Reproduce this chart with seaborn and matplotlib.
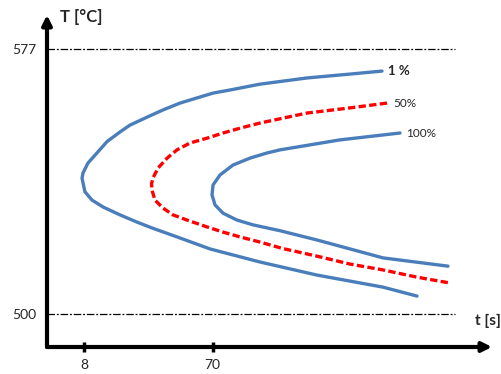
import numpy as np
import matplotlib
matplotlib.use("Agg")
import matplotlib.pyplot as plt
import pandas as pd
import seaborn as sns

# curve points: time [s] (log axis) and temperature [°C]
one_t = [1222, 700, 344, 155.7, 93.8, 70.4, 53.7, 40.3, 30.2, 23.07, 17.31, 14.62,
         11.74, 9.91, 8.52, 7.83, 7.70, 7.83, 8.09, 9.11, 10.97, 14.62, 19.49,
         25.1, 38.3, 66.9, 155.7, 408, 1243, 2208]
one_T = [570.6, 569.7, 568.6, 566.8, 565.1, 564.2, 562.8, 561.3, 559.3, 557.2, 554.9, 552.9,
         550.1, 546.8, 543.9, 541.0, 539.5, 538.1, 535.5, 533.1, 531.1, 528.8, 526.7,
         525.0, 522.4, 518.9, 515.1, 511.3, 507.8, 505.2]

fifty_t = [1330, 712, 344, 155.7, 111, 83.3, 63.6, 47.7, 38.3, 32.4, 27.8, 25.5,
           24.9, 25.1, 26.4, 30.2, 35.8, 45.3, 63.6, 83.3, 111, 155.7, 229.6,
           408, 712, 1243, 2208, 3857]
fifty_T = [561.3, 559.9, 558.4, 555.5, 554.0, 552.6, 551.1, 549.7, 547.7, 545.3, 542.4, 539.5,
           537.8, 536.0, 533.1, 530.8, 528.8, 527.3, 525.3, 523.8, 522.4, 520.9, 519.0,
           516.8, 514.5, 512.8, 510.7, 509.0]

hundred_t = [1657, 601, 218.3, 175.2, 131.5, 98.7, 79.2, 70.4, 69.2,
             72.8, 83.3, 105.5, 138.3, 218.3, 408, 1243, 3728]
hundred_T = [552.6, 550.6, 547.7, 546.8, 545.3, 543.3, 540.4, 537.5, 534.6,
             531.7, 529.3, 527.3, 525.9, 524.2, 521.5, 516.3, 513.9]

curve_labels = ["1 %", "50%", "100%"]
x_ticks = [8, 70]
y_lines = [577, 500]

sns.set_style("white")
plt.rcParams["font.family"] = ["Lato", "DejaVu Sans"]

W, H = 502, 374
fig = plt.figure(figsize=(W / 100, H / 100), dpi=100)
ax = fig.add_axes([47 / W, (H - 347) / H, (492 - 47) / W, (347 - 15) / H])

blue = "#4a7ebb"
red = "#ff0000"

curves = [(one_t, one_T, blue), (fifty_t, fifty_T, red), (hundred_t, hundred_T, blue)]
for t, T, col in curves:
    df = pd.DataFrame({"t": t, "T": T})
    sns.lineplot(data=df, x="t", y="T", sort=False, estimator=None,
                 color=col, lw=2.4, ax=ax)

# 50% curve is dashed
ax.get_lines()[1].set_dashes((2.2, 1.0))
for ln in ax.get_lines():
    ln.set_solid_joinstyle("round")

ax.set_xscale("log")
ax.set_xlim(4.26, 7837)
ax.set_ylim(490.4, 586.9)

# labels at curve ends
for (t, T, col), lab, fs, fw in zip(curves, curve_labels,
                                    [9.5, 8.5, 8.5], ["bold", "normal", "normal"]):
    ax.annotate(lab, xy=(t[0], T[0]), xytext=(6, 0), textcoords="offset pixels",
                ha="left", va="center", fontsize=fs, fontweight=fw)

for y in y_lines:
    ax.axhline(y, xmin=0, xmax=(455 - 47) / (492 - 47), color="black",
               lw=0.9, linestyle=(0, (6, 1.5, 1.5, 1.5)))

for s in ax.spines.values():
    s.set_visible(False)

ax.set_xticks(x_ticks)
ax.set_xticklabels([str(v) for v in x_ticks])
ax.xaxis.set_minor_locator(matplotlib.ticker.NullLocator())
ax.set_yticks(y_lines)
ax.set_yticklabels([str(v) for v in y_lines])
ax.tick_params(axis="x", bottom=True, direction="inout", length=7, width=2.5,
               color="black", pad=5, labelsize=10)
ax.tick_params(axis="y", left=False, length=0, pad=8, labelsize=10)
ax.set_xlabel("")
ax.set_ylabel("")

# axis arrows
for end in [(1, 0), (0, 1)]:
    ax.annotate("", xy=end, xytext=(0, 0), xycoords="axes fraction",
                arrowprops=dict(arrowstyle="-|>", lw=3, color="black",
                                mutation_scale=14, shrinkA=0, shrinkB=0))

fig.text(60 / W, 1 - 17 / H, "T [°C]", fontsize=12, fontweight="bold",
         ha="left", va="center")
fig.text(475 / W, 1 - 321 / H, "t [s]", fontsize=11, fontweight="bold",
         ha="left", va="center")

fig.savefig("out.png", dpi=100)
